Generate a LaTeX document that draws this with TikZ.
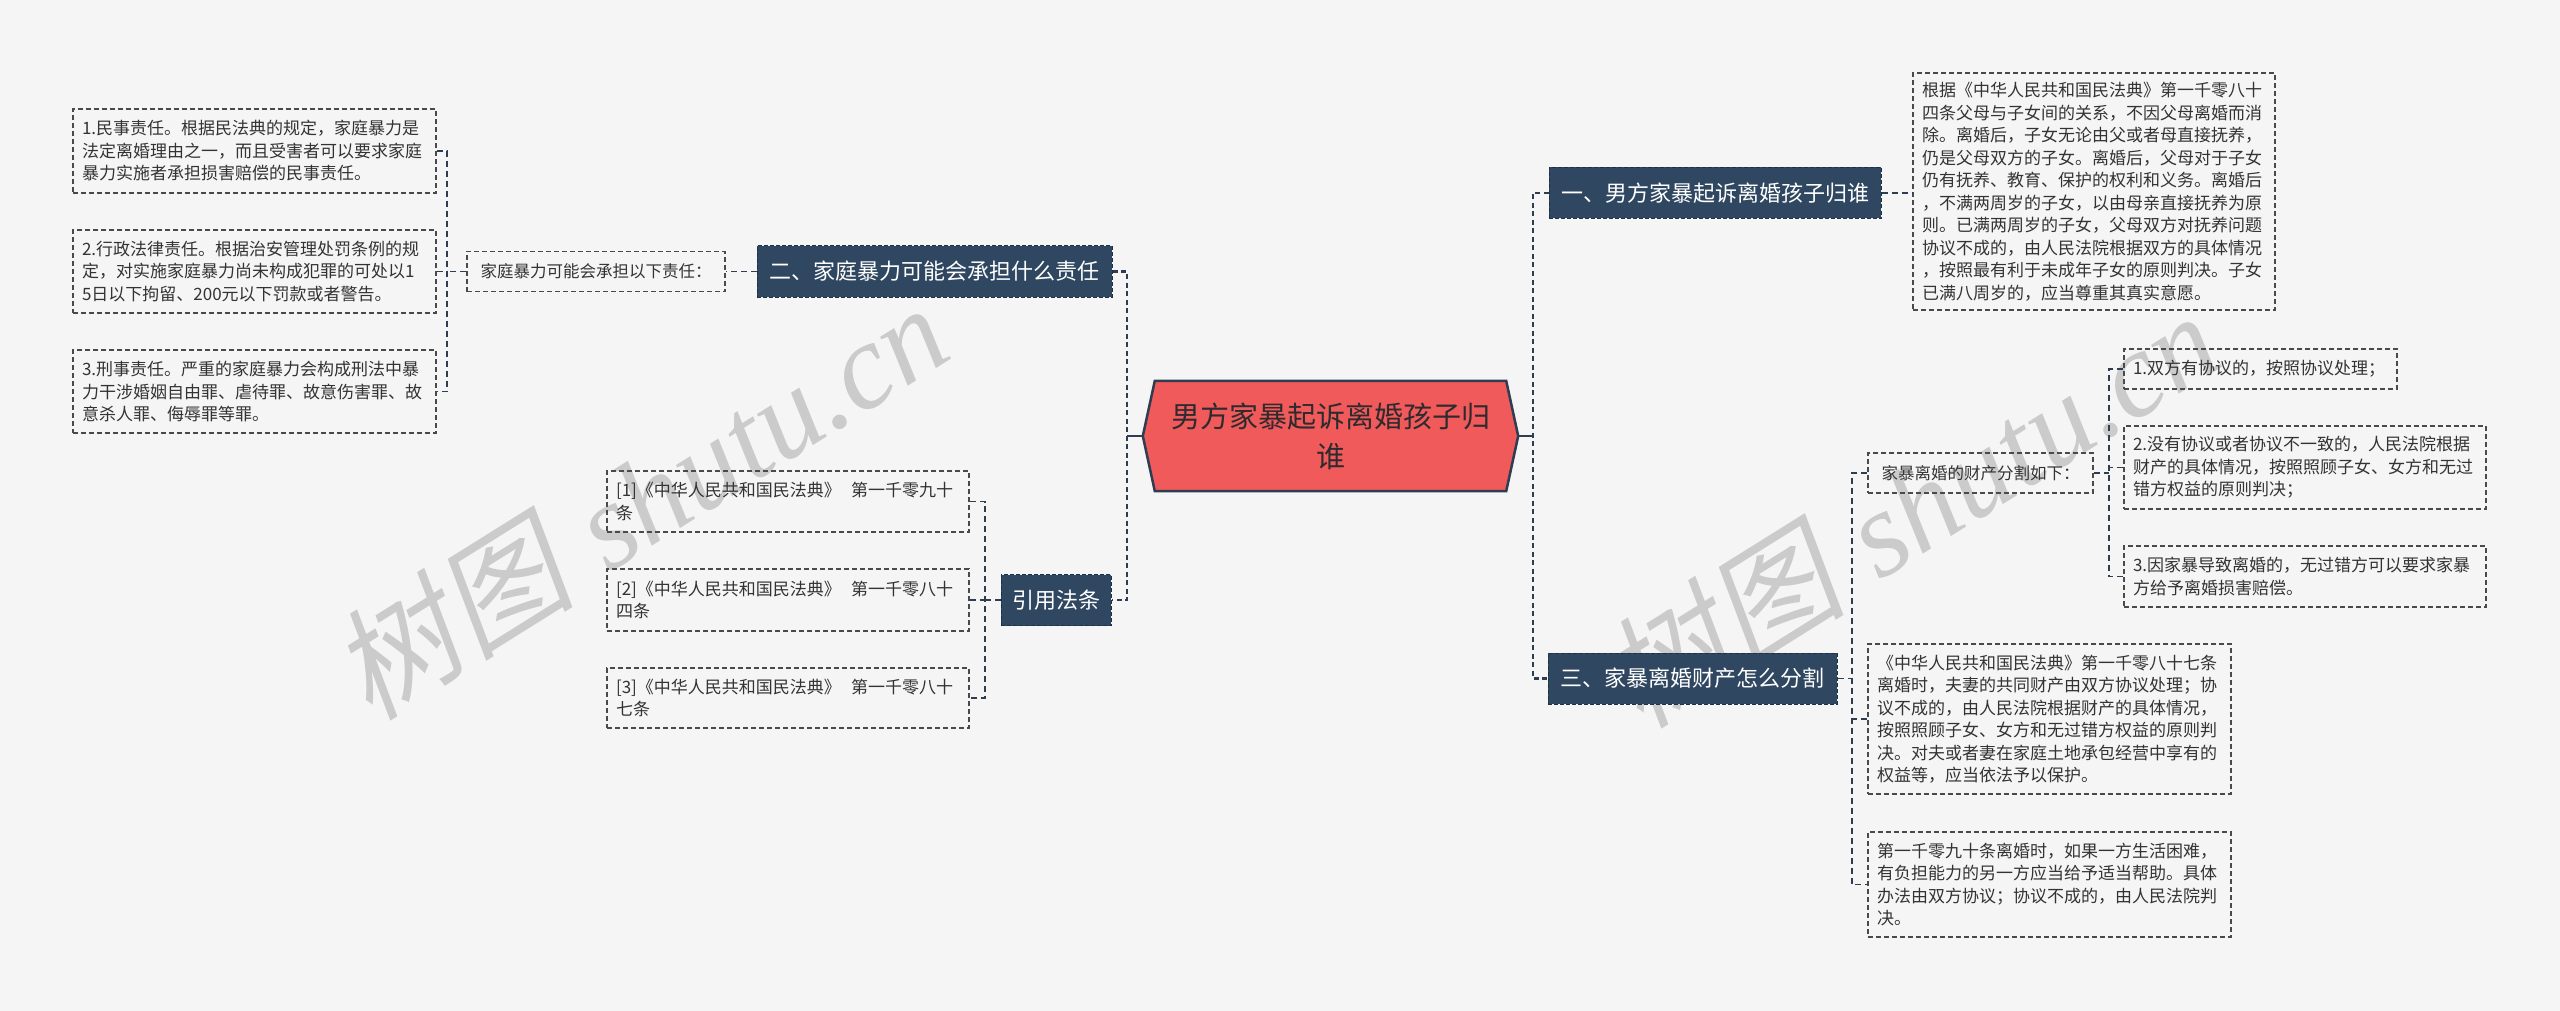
\documentclass[tikz,border=0pt]{standalone}
\usepackage{fontspec}
\setmainfont{Noto Sans CJK SC}
\newfontfamily\wmcjk[FakeSlant=0.2]{Noto Sans CJK SC}
\newfontfamily\wmlat{Liberation Serif}
\pgfdeclarelayer{bg}
\pgfsetlayers{bg,main}
\definecolor{bgc}{HTML}{F5F5F5}
\definecolor{navy}{HTML}{2F4760}
\definecolor{navyb}{HTML}{1F3146}
\definecolor{linec}{HTML}{2E3D52}
\definecolor{boxc}{HTML}{4A4A4A}
\definecolor{txtc}{HTML}{333333}
\definecolor{redc}{HTML}{F05A5A}
\definecolor{rootc}{HTML}{2E2A2E}
\definecolor{wmc}{HTML}{CBCBCB}
\tikzset{
  txtbox/.style={draw=boxc, line width=1.2pt, dash pattern=on 5pt off 3pt, text=txtc,
    align=left, inner xsep=9pt, inner ysep=0pt, font=\fontsize{17}{22.5}\selectfont},
  lblbox/.style={draw=boxc, line width=1.2pt, dash pattern=on 5pt off 3pt, text=txtc,
    align=center, inner sep=0pt, minimum height=40pt, font=\fontsize{16.5}{20}\selectfont},
  title/.style={fill=navy, draw=navyb, line width=1pt, dash pattern=on 4pt off 2pt,
    text=white, inner sep=0pt, minimum height=51pt, font=\fontsize{22}{26}\selectfont},
  mainconn/.style={draw=linec, line width=2.5pt, dash pattern=on 5pt off 3.5pt},
  subconn/.style={draw=linec, line width=1.3pt, dash pattern=on 6pt off 4pt},
  rootline/.style={draw=linec, line width=2.5pt},
  wm/.style={text=wmc, inner sep=0pt, rotate=32, font=\fontsize{122}{122}\selectfont},
}
\newcommand{\wmtext}{{\wmcjk 树图}\hspace{0.3em}{\wmlat\itshape shutu.cn}}
\newcommand{\refgap}{\hspace{0.6em}}
\begin{document}
\begin{tikzpicture}[x=1pt,y=-1pt]
\begin{pgfonlayer}{bg}
\fill[bgc] (0,0) rectangle (2560,1011);
\end{pgfonlayer}
\useasboundingbox (0,0) rectangle (2560,1011);

% watermarks
\node[wm] (wm1) at (639,500) {\wmtext};
\node[wm] (wm2) at (1910,508) {\wmtext};

% root
\node[font=\fontsize{29}{40}\selectfont, align=center, text=rootc, minimum width=351pt,
  minimum height=110pt, inner sep=0pt] (root) at (1330.5,436) {男方家暴起诉离婚孩子归\\谁};
\coordinate (rootL) at ([xshift=-12pt]root.west);
\coordinate (rootR) at ([xshift=12pt]root.east);
\begin{pgfonlayer}{bg}
\draw[fill=redc, draw=linec, line width=2.5pt, line join=miter]
  (root.north west) -- (root.north east) -- (rootR) -- (root.south east)
  -- (root.south west) -- (rootL) -- cycle;
\end{pgfonlayer}

% main branches
\node[title, minimum width=355pt] (n2) at (934.5,271.5) {二、家庭暴力可能会承担什么责任};
\node[title, minimum width=110pt] (n4) at (1056,600) {引用法条};
\node[title, minimum width=332pt] (n1) at (1715,193) {一、男方家暴起诉离婚孩子归谁};
\node[title, minimum width=289pt] (n3) at (1692.5,678.5) {三、家暴离婚财产怎么分割};

% left: responsibilities
\node[lblbox, minimum width=258pt] (lab) at (596,271.5) {家庭暴力可能会承担以下责任：};
\node[txtbox, text width=345pt, minimum height=84pt] (b1) at (254.5,151)
  {1.民事责任。根据民法典的规定，家庭暴力是\\法定离婚理由之一，而且受害者可以要求家庭\\暴力实施者承担损害赔偿的民事责任。};
\node[txtbox, text width=345pt, minimum height=83pt] (b2) at (254.5,271.5)
  {2.行政法律责任。根据治安管理处罚条例的规\\定，对实施家庭暴力尚未构成犯罪的可处以1\\5日以下拘留、200元以下罚款或者警告。};
\node[txtbox, text width=345pt, minimum height=83pt] (b3) at (254.5,391.5)
  {3.刑事责任。严重的家庭暴力会构成刑法中暴\\力干涉婚姻自由罪、虐待罪、故意伤害罪、故\\意杀人罪、侮辱罪等罪。};

% left: references
\node[txtbox, text width=344pt, minimum height=61pt] (r1) at (788,501.5)
  {[1]《中华人民共和国民法典》\refgap 第一千零九十\\条};
\node[txtbox, text width=344pt, minimum height=62pt] (r2) at (788,600)
  {[2]《中华人民共和国民法典》\refgap 第一千零八十\\四条};
\node[txtbox, text width=344pt, minimum height=60pt] (r3) at (788,698)
  {[3]《中华人民共和国民法典》\refgap 第一千零八十\\七条};

% right: custody
\node[txtbox, text width=344pt, minimum height=237pt] (big) at (2094,191.5)
  {根据《中华人民共和国民法典》第一千零八十\\四条父母与子女间的关系，不因父母离婚而消\\除。离婚后，子女无论由父或者母直接抚养，\\仍是父母双方的子女。离婚后，父母对于子女\\仍有抚养、教育、保护的权利和义务。离婚后\\，不满两周岁的子女，以由母亲直接抚养为原\\则。已满两周岁的子女，父母双方对抚养问题\\协议不成的，由人民法院根据双方的具体情况\\，按照最有利于未成年子女的原则判决。子女\\已满八周岁的，应当尊重其真实意愿。};

% right: property
\node[lblbox, minimum width=225pt] (pl) at (1980.5,473) {家暴离婚的财产分割如下：};
\node[txtbox, text width=255pt, minimum height=40pt] (i1) at (2260.5,369)
  {1.双方有协议的，按照协议处理；};
\node[txtbox, text width=344pt, minimum height=83pt] (i2) at (2305,467.5)
  {2.没有协议或者协议不一致的，人民法院根据\\财产的具体情况，按照照顾子女、女方和无过\\错方权益的原则判决；};
\node[txtbox, text width=344pt, minimum height=61pt] (i3) at (2305,576.5)
  {3.因家暴导致离婚的，无过错方可以要求家暴\\方给予离婚损害赔偿。};
\node[txtbox, text width=345pt, minimum height=150pt] (pa) at (2049.5,719)
  {《中华人民共和国民法典》第一千零八十七条\\离婚时，夫妻的共同财产由双方协议处理；协\\议不成的，由人民法院根据财产的具体情况，\\按照照顾子女、女方和无过错方权益的原则判\\决。对夫或者妻在家庭土地承包经营中享有的\\权益等，应当依法予以保护。};
\node[txtbox, text width=345pt, minimum height=105pt] (pb) at (2049.5,884.5)
  {第一千零九十条离婚时，如果一方生活困难，\\有负担能力的另一方应当给予适当帮助。具体\\办法由双方协议；协议不成的，由人民法院判\\决。};

% spine coordinates
\coordinate (LS) at (1127,436);
\coordinate (RS) at (1533,436);
\coordinate (LB) at (447,271.5);
\coordinate (LR) at (985,600);
\coordinate (R3) at (1852,678.5);
\coordinate (RP) at (2109,473);

% root connectors
\draw[rootline] (rootL) -- (LS);
\draw[rootline] (rootR) -- (RS);
\draw[mainconn] (n2.east) -- (n2.east -| LS) -- (n4.east -| LS) -- (n4.east);
\draw[mainconn] (n1.west) -- (n1.west -| RS) -- (n3.west -| RS) -- (n3.west);

% sub connectors
\draw[subconn] (n2.west) -- (lab.east);
\draw[subconn] (lab.west) -- (LB);
\draw[subconn] (b1.east) -- (b1.east -| LB) -- (b3.east -| LB) -- (b3.east);
\draw[subconn] (b2.east) -- (b2.east -| LB);

\draw[subconn] (n4.west) -- (LR);
\draw[subconn] (r1.east) -- (r1.east -| LR) -- (r3.east -| LR) -- (r3.east);
\draw[subconn] (r2.east) -- (r2.east -| LR);

\draw[subconn] (n1.east) -- (n1.east -| big.west);

\draw[subconn] (n3.east) -- (R3);
\draw[subconn] (pl.west) -- (pl.west -| R3) -- (pb.west -| R3) -- (pb.west);
\draw[subconn] (pa.west) -- (pa.west -| R3);

\draw[subconn] (pl.east) -- (RP);
\draw[subconn] (i1.west) -- (i1.west -| RP) -- (i3.west -| RP) -- (i3.west);
\draw[subconn] (i2.west) -- (i2.west -| RP);
\end{tikzpicture}
\end{document}
